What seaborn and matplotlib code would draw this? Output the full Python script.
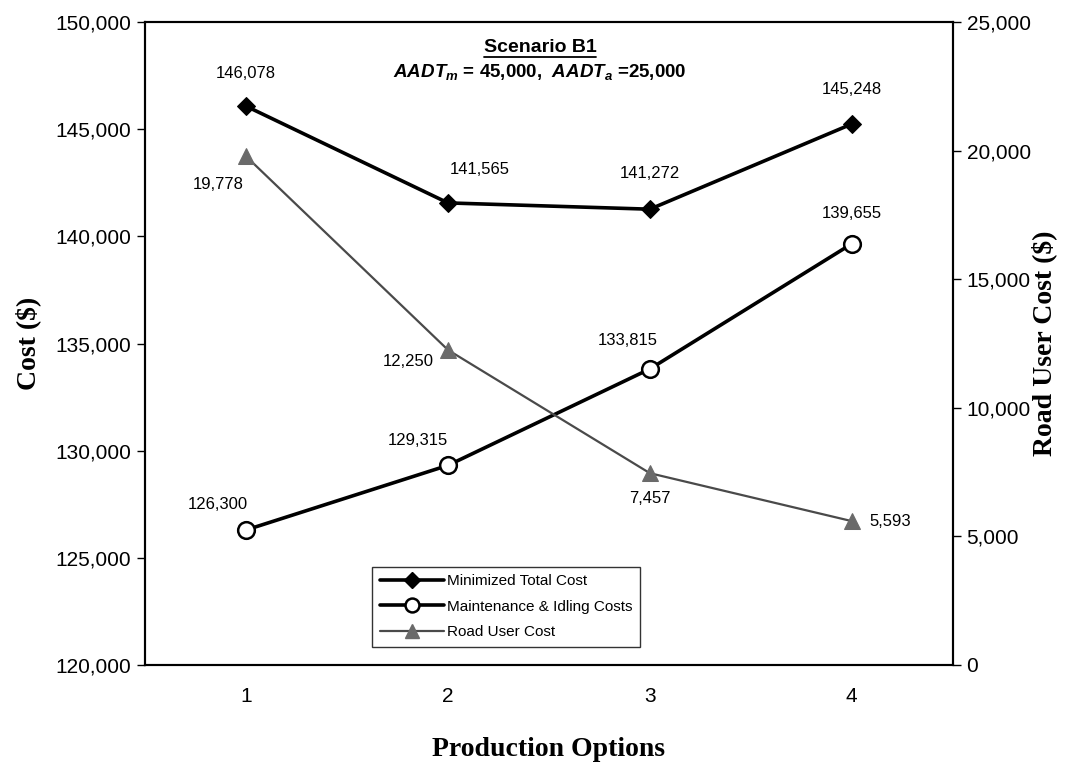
import matplotlib

matplotlib.use("Agg")
import matplotlib.pyplot as plt
import pandas as pd
import seaborn as sns
from matplotlib.lines import Line2D
from matplotlib.ticker import FixedLocator, FuncFormatter

OPTIONS = [1, 2, 3, 4]
TOTAL_COST = [146078, 141565, 141272, 145248]
MAINT_COST = [126300, 129315, 133815, 139655]
ROAD_USER_COST = [19778, 12250, 7457, 5593]

# label offsets in pixels (dx, dy) for each point
TOTAL_OFFSETS = [(0, 33), (32, 33), (0, 36), (0, 35)]
MAINT_OFFSETS = [(-28, 25), (-30, 25), (-22, 28), (0, 30)]
ROAD_OFFSETS = [(-28, -28), (-40, -12), (0, -25), (38, 0)]

sns.set_style("white")
plt.rcParams["font.family"] = ["Liberation Sans", "DejaVu Sans"]
plt.rcParams["mathtext.fontset"] = "custom"
plt.rcParams["mathtext.it"] = "Liberation Sans:italic:bold"
plt.rcParams["mathtext.rm"] = "Liberation Sans:bold"
for key in ["text.color", "axes.labelcolor", "xtick.color", "ytick.color"]:
    plt.rcParams[key] = "black"

df = pd.DataFrame(
    {
        "option": OPTIONS,
        "total": TOTAL_COST,
        "maint": MAINT_COST,
        "road": ROAD_USER_COST,
    }
)

fig = plt.figure(figsize=(10.68, 7.66), dpi=100)
ax = fig.add_axes([0.136, 0.132, 0.756, 0.839])
ax2 = ax.twinx()

sns.lineplot(
    data=df, x="option", y="total", ax=ax, color="black", lw=2.6,
    marker="D", markersize=9, markerfacecolor="black", markeredgecolor="black",
)
sns.lineplot(
    data=df, x="option", y="maint", ax=ax, color="black", lw=2.6,
    marker="o", markersize=12, markerfacecolor="white", markeredgecolor="black",
    markeredgewidth=1.8,
)
sns.lineplot(
    data=df, x="option", y="road", ax=ax2, color="#4a4a4a", lw=1.6,
    marker="^", markersize=12, markerfacecolor="#6a6a6a", markeredgecolor="#6a6a6a",
)

ax.set_xlim(0.5, 4.5)
ax.set_ylim(120000, 150000)
ax2.set_ylim(0, 25000)
ax.set_yticks(range(120000, 150001, 5000))
ax2.set_yticks(range(0, 25001, 5000))
fmt = FuncFormatter(lambda v, p: f"{int(v):,}")
ax.yaxis.set_major_formatter(fmt)
ax2.yaxis.set_major_formatter(fmt)

# category axis: tick marks at boundaries, labels at centres
ax.xaxis.set_major_locator(FixedLocator([0.5, 1.5, 2.5, 3.5, 4.5]))
ax.set_xticklabels([])
ax.set_xticks(OPTIONS, minor=True)
ax.set_xticklabels([str(o) for o in OPTIONS], minor=True)
ax.tick_params(axis="x", which="minor", length=0, pad=16, labelsize=15)
ax.tick_params(axis="x", which="major", direction="inout", length=10, width=1)
ax.tick_params(axis="y", direction="out", length=6, width=1, labelsize=15, pad=4)
ax2.tick_params(axis="y", direction="out", length=6, width=1, labelsize=15, pad=4)

for a in (ax, ax2):
    for s in a.spines.values():
        s.set_color("black")
        s.set_linewidth(1.5)

serif = ["Liberation Serif", "DejaVu Serif"]
ax.set_xlabel("Production Options", family=serif, fontweight="bold", fontsize=20, labelpad=22)
ax.set_ylabel("Cost ($)", family=serif, fontweight="bold", fontsize=20, labelpad=10)
ax2.set_ylabel("Road User Cost ($)", family=serif, fontweight="bold", fontsize=20, labelpad=0)

for x, y, (dx, dy) in zip(OPTIONS, TOTAL_COST, TOTAL_OFFSETS):
    ax.annotate(f"{y:,}", (x, y), xytext=(dx, dy), textcoords="offset pixels",
                ha="center", va="center", fontsize=12)
for x, y, (dx, dy) in zip(OPTIONS, MAINT_COST, MAINT_OFFSETS):
    ax.annotate(f"{y:,}", (x, y), xytext=(dx, dy), textcoords="offset pixels",
                ha="center", va="center", fontsize=12)
for x, y, (dx, dy) in zip(OPTIONS, ROAD_USER_COST, ROAD_OFFSETS):
    ax2.annotate(f"{y:,}", (x, y), xytext=(dx, dy), textcoords="offset pixels",
                 ha="center", va="center", fontsize=12)

# title block inside the plot
title = ax.text(0.489, 0.961, "Scenario B1", transform=ax.transAxes,
                ha="center", va="center", fontsize=14, fontweight="bold")
ax.text(0.489, 0.923, r"$AADT_{m}$ = 45,000,  $AADT_{a}$ =25,000",
        transform=ax.transAxes, ha="center", va="center", fontsize=13.5,
        fontweight="bold")
fig.canvas.draw()
bb = title.get_window_extent().transformed(fig.transFigure.inverted())
fig.add_artist(Line2D([bb.x0, bb.x1], [bb.y0 - 0.002, bb.y0 - 0.002],
                      transform=fig.transFigure, color="black", lw=1.3))

handles = [
    Line2D([], [], color="black", lw=2.6, marker="D", markersize=8,
           markerfacecolor="black"),
    Line2D([], [], color="black", lw=2.6, marker="o", markersize=10,
           markerfacecolor="white", markeredgewidth=1.8),
    Line2D([], [], color="#4a4a4a", lw=1.6, marker="^", markersize=10,
           markerfacecolor="#6a6a6a", markeredgecolor="#6a6a6a"),
]
labels = ["Minimized Total Cost", "Maintenance & Idling Costs", "Road User Cost"]
leg = ax2.legend(handles, labels, loc="lower left", bbox_to_anchor=(0.281, 0.028),
                 fontsize=11, frameon=True, fancybox=False, handlelength=4.2,
                 handletextpad=0.2, borderpad=0.5, labelspacing=0.75,
                 borderaxespad=0)
leg.get_frame().set_edgecolor("black")
leg.get_frame().set_linewidth(1.0)

fig.savefig("out.png", dpi=100)
